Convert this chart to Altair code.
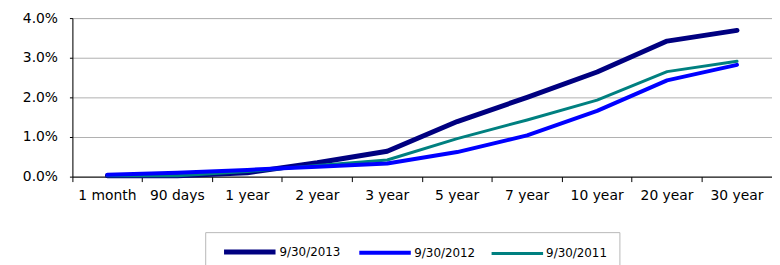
import altair as alt
import pandas as pd

categories = ["1 month", "90 days", "1 year", "2 year", "3 year",
              "5 year", "7 year", "10 year", "20 year", "30 year"]
series_names = ["9/30/2013", "9/30/2012", "9/30/2011"]
y2013 = [0.02, 0.02, 0.10, 0.35, 0.64, 1.39, 2.00, 2.64, 3.42, 3.69]
y2012 = [0.05, 0.10, 0.17, 0.25, 0.33, 0.62, 1.04, 1.66, 2.43, 2.82]
y2011 = [0.02, 0.02, 0.13, 0.28, 0.42, 0.96, 1.43, 1.93, 2.65, 2.91]
colors = ["#000080", "#0000FF", "#008080"]
widths = [5, 3, 3]

rows = []
for name, vals in zip(series_names, [y2013, y2012, y2011]):
    for c, v in zip(categories, vals):
        rows.append({"term": c, "yield": v / 100.0, "series": name})
df = pd.DataFrame(rows)

x_enc = alt.X("term:N", sort=categories, bandPosition=0.5,
              scale=alt.Scale(type="band", paddingInner=0, paddingOuter=0),
              axis=alt.Axis(title=None, bandPosition=0,
                            labelAngle=0, tickSize=5, labelPadding=7,
                            labelFont="DejaVu Sans", labelFontSize=14,
                            labelColor="#000000", domainColor="#000000",
                            tickColor="#000000", grid=False))
y_enc = alt.Y("yield:Q",
              scale=alt.Scale(domain=[0, 0.04], nice=False),
              axis=alt.Axis(title=None, format=".1%", values=[0, 0.01, 0.02, 0.03, 0.04],
                            tickSize=3, labelPadding=12,
                            labelFont="DejaVu Sans", labelFontSize=14,
                            labelColor="#000000", domainColor="#000000",
                            tickColor="#000000", grid=True, gridColor="#b0b0b0"))
leg = dict(title=None, orient="none", legendX=134, legendY=216,
           direction="horizontal", symbolType="M-5,0H5",
           symbolSize=108, symbolOffset=25, labelFont="DejaVu Sans",
           labelFontSize=12, labelColor="#000000",
           labelOffset=22, columnPadding=10, padding=12,
           strokeColor="#b8b8b8", fillColor="#ffffff")
color_enc = alt.Color("series:N",
                      scale=alt.Scale(domain=series_names, range=colors),
                      legend=alt.Legend(**leg))
sw_enc = alt.StrokeWidth("series:N",
                         scale=alt.Scale(domain=series_names, range=widths),
                         legend=alt.Legend(**leg))

def layer(name):
    return alt.Chart(df).transform_filter(alt.datum.series == name).mark_line(
        strokeCap="round", strokeJoin="round").encode(
        x=x_enc, y=y_enc, color=color_enc, strokeWidth=sw_enc)

chart = alt.layer(layer("9/30/2013"), layer("9/30/2011"), layer("9/30/2012")).properties(
    width=706, height=160,
    autosize=alt.AutoSizeParams(type="none"),
    padding={"left": 65, "top": 9, "right": 0, "bottom": 90},
).configure_view(stroke=None).configure(background="#ffffff")

chart.save("out.html", embed_options={"renderer": "svg", "actions": False})
